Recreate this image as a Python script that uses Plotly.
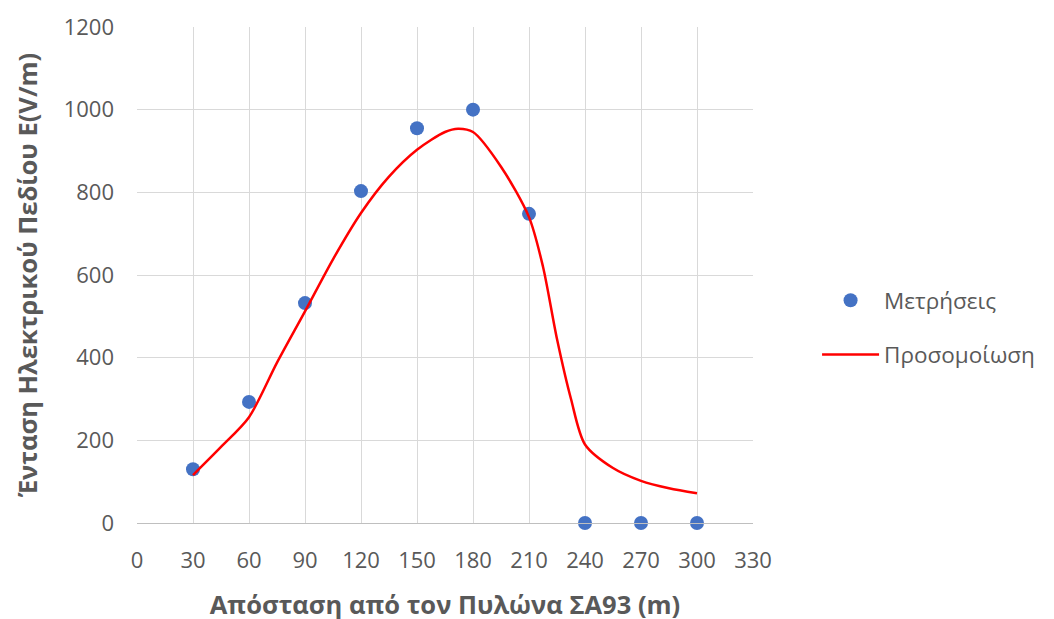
import plotly.graph_objects as go

# Measurements
meas_x = [30, 60, 90, 120, 150, 180, 210, 240, 270, 300]
meas_y = [130, 293, 532, 803, 955, 1000, 748, 0, 0, 0]

# Simulation
sim_x = [30, 45, 60, 75, 90, 105, 120, 135, 150, 165, 172, 180, 195, 210, 217.5, 225, 232.5, 240, 255, 270, 285, 300]
sim_y = [116, 184, 256, 388, 512, 638, 750, 838, 903, 946, 954, 946, 862, 740, 620, 445, 300, 190, 133, 102, 84, 72]

x_ticks = [0, 30, 60, 90, 120, 150, 180, 210, 240, 270, 300, 330]
y_ticks = [0, 200, 400, 600, 800, 1000, 1200]

x_title = "Απόσταση από τον Πυλώνα ΣΑ93 (m)"
y_title = "Ένταση Ηλεκτρικού Πεδίου E(V/m)"
names = ["Μετρήσεις", "Προσομοίωση"]

FONT = "Open Sans, Liberation Sans, sans-serif"
GRAY = "#595959"

fig = go.Figure()
fig.add_trace(go.Scatter(
    x=meas_x, y=meas_y, mode="markers", name=names[0],
    marker=dict(color="#4472c4", size=14), legendgroup="a", cliponaxis=False,
))
fig.add_trace(go.Scatter(
    x=sim_x, y=sim_y, mode="lines", name=names[1],
    line=dict(color="#ff0000", width=2.5, shape="spline", smoothing=0.8),
    legendgroup="b",
))

fig.update_layout(
    width=1054, height=619,
    margin=dict(l=129, r=309, t=19, b=104, autoexpand=False),
    paper_bgcolor="white", plot_bgcolor="white",
    font=dict(family=FONT, color=GRAY, size=21),
    showlegend=True,
    legend=dict(
        x=1.104, y=0.394, xanchor="left", yanchor="middle",
        font=dict(size=22.5, color=GRAY),
        traceorder="grouped", tracegroupgap=22,
        itemwidth=57, bgcolor="rgba(0,0,0,0)",
    ),
    xaxis=dict(
        range=[0, 330], tickvals=x_ticks, ticktext=[str(v) for v in x_ticks],
        showgrid=True, gridcolor="#d9d9d9", gridwidth=1,
        showline=True, linecolor="#bfbfbf", linewidth=1,
        zeroline=False, ticks="", ticklabelstandoff=18, automargin=False,
        tickfont=dict(size=22, color=GRAY),
        title=dict(text="<b>" + x_title + "</b>", font=dict(size=25.5, color=GRAY), standoff=22),
    ),
    yaxis=dict(
        range=[0, 1200], tickvals=y_ticks, ticktext=[str(v) for v in y_ticks],
        showgrid=True, gridcolor="#d9d9d9", gridwidth=1,
        showline=False, zeroline=False, ticks="", ticklabelstandoff=22, automargin=False,
        tickfont=dict(size=22, color=GRAY),
        title=dict(text="<b>" + y_title + "</b>", font=dict(size=25.5, color=GRAY), standoff=18),
    ),
)

fig.write_html("out.html")
